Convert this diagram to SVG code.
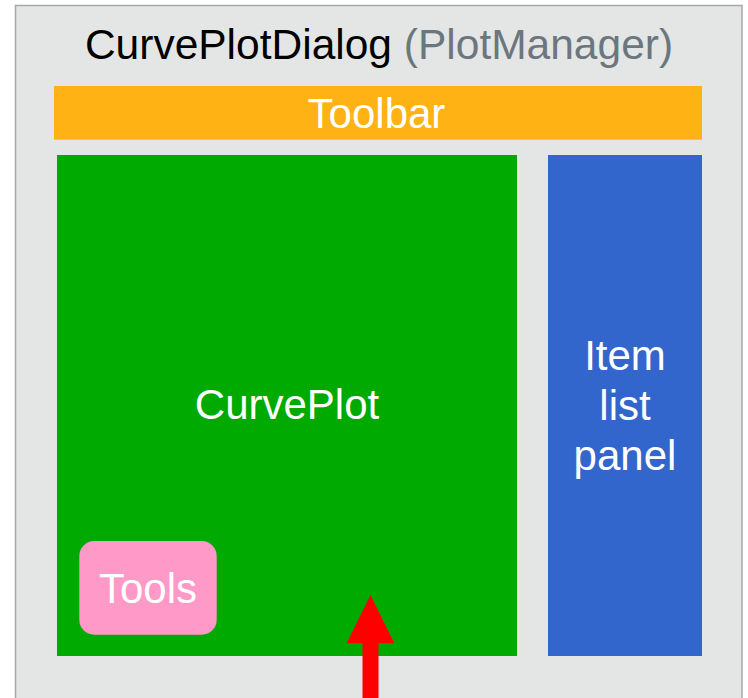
<svg xmlns="http://www.w3.org/2000/svg" width="748" height="698" viewBox="0 0 748 698">
<style>
text{font-family:"Liberation Sans",Arial,sans-serif;font-size:42px;text-anchor:middle}
.w{fill:#ffffff}
</style>
<rect width="748" height="698" fill="#ffffff"/>
<g id="dialog">
<rect x="15.5" y="5.5" width="726.5" height="720" fill="#e4e6e5" stroke="#a5a9ac" stroke-width="1.5"/>
<text x="379" y="59" fill="#000000" style="font-size:42.5px">CurvePlotDialog <tspan fill="#6c767e">(PlotManager)</tspan></text>
</g>
<g id="toolbar">
<rect x="54" y="86" width="648" height="53.7" fill="#feb213"/>
<text class="w" x="376.5" y="127.7">Toolbar</text>
</g>
<g id="curveplot">
<rect x="57" y="155" width="460" height="501" fill="#00aa00"/>
<text class="w" x="287" y="419">CurvePlot</text>
</g>
<g id="itemlist">
<rect x="548" y="155" width="154" height="501" fill="#3366cc"/>
<text class="w" x="625" y="369.5">Item</text>
<text class="w" x="625" y="420">list</text>
<text class="w" x="625" y="470">panel</text>
</g>
<g id="tools">
<rect x="79.3" y="541" width="137.4" height="93.7" rx="15" fill="#fe99c8"/>
<text class="w" x="148" y="603.3">Tools</text>
</g>
<g id="connectors">
<rect x="362.5" y="642" width="16" height="60" fill="#ff0000"/>
<polygon points="370.5,595 394.3,643.3 346.7,643.3" fill="#ff0000"/>
</g>
</svg>
